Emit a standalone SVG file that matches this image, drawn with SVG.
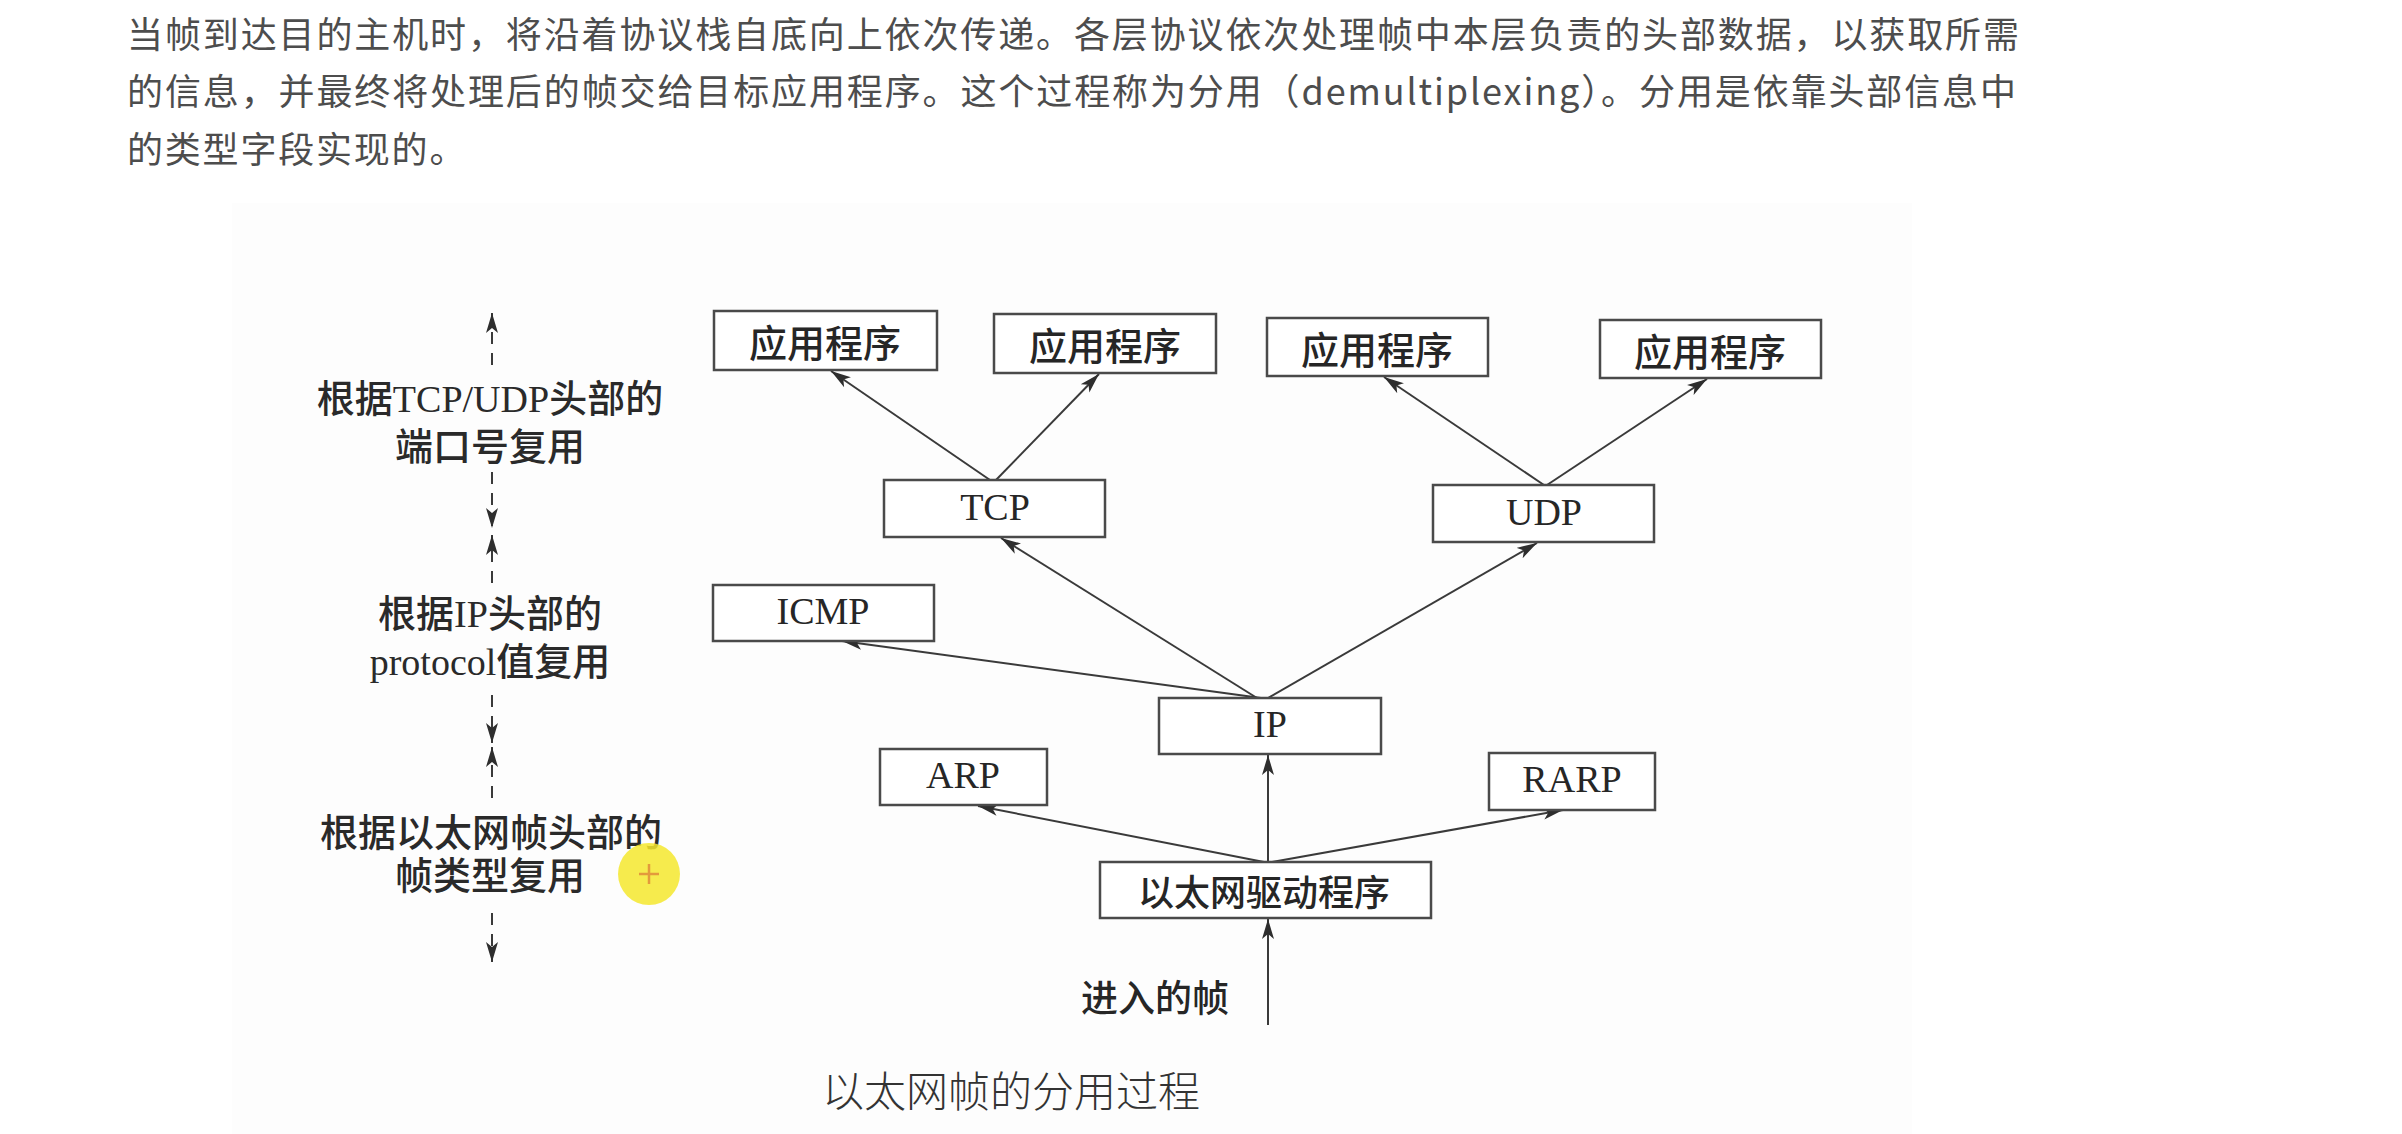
<svg xmlns="http://www.w3.org/2000/svg" width="2402" height="1134" viewBox="0 0 2402 1134">
  <style>
    .para { font-family: "Noto Sans CJK SC", "Noto Sans", sans-serif; font-size: 36px; fill: #4d4d4d; }
    .box { fill: #ffffff; stroke: #4a4a4a; stroke-width: 2.5; }
    .lbl { font-family: "Liberation Serif", "Noto Sans CJK SC", serif; font-size: 38px; fill: #262626; text-anchor: middle; dominant-baseline: central; }
    .cjk { font-family: "Noto Sans CJK SC", sans-serif; font-size: 38px; font-weight: 500; fill: #262626; text-anchor: middle; dominant-baseline: central; }
    .side { font-family: "Liberation Serif", "Noto Sans CJK SC", serif; font-size: 38px; font-weight: 500; fill: #2a2a2a; text-anchor: middle; dominant-baseline: central; }
    .conn { stroke: #3a3a3a; stroke-width: 2; fill: none; marker-end: url(#arr); }
    .dash { stroke: #3a3a3a; stroke-width: 2; fill: none; stroke-dasharray: 12 9; marker-end: url(#arr); }
  </style>
  <defs>
    <marker id="arr" markerUnits="userSpaceOnUse" markerWidth="22" markerHeight="14" refX="20" refY="7" orient="auto">
      <path d="M0,1 L20,7 L0,13 L5,7 Z" fill="#2e2e2e"/>
    </marker>
  </defs>

  <rect x="0" y="0" width="2402" height="1134" fill="#ffffff"/>

  <g id="paragraph">
    <text class="para" x="127" y="48" textLength="1892" lengthAdjust="spacing">当帧到达目的主机时，将沿着协议栈自底向上依次传递。各层协议依次处理帧中本层负责的头部数据，以获取所需</text>
    <text class="para" x="127" y="105" textLength="1889" lengthAdjust="spacing">的信息，并最终将处理后的帧交给目标应用程序。这个过程称为分用（demultiplexing）。分用是依靠头部信息中</text>
    <text class="para" x="127" y="163" letter-spacing="1.8">的类型字段实现的。</text>
  </g>

  <rect id="figure-bg" x="232" y="203" width="1680" height="931" fill="#fdfdfd"/>

  <g id="side-labels">
    <path class="dash" d="M492,365 L492,313"/>
    <text class="side" x="490" y="399">根据TCP/UDP头部的</text>
    <text class="side" x="490" y="447">端口号复用</text>
    <path class="dash" d="M492,472 L492,528"/>
    <path class="dash" d="M492,583 L492,535"/>
    <text class="side" x="490" y="614">根据IP头部的</text>
    <text class="side" x="490" y="662">protocol值复用</text>
    <path class="dash" d="M492,695 L492,743"/>
    <path class="dash" d="M492,798 L492,747"/>
    <text class="side" x="491" y="833">根据以太网帧头部的</text>
    <text class="side" x="490" y="876">帧类型复用</text>
    <path class="dash" d="M492,913 L492,962"/>
  </g>

  <g id="connectors">
    <path class="conn" d="M990,480 L831,371"/>
    <path class="conn" d="M996,480 L1099,374"/>
    <path class="conn" d="M1544,485 L1384,377"/>
    <path class="conn" d="M1547,485 L1707,379"/>
    <path class="conn" d="M1257,698 L1001,538"/>
    <path class="conn" d="M1268,698 L1537,543"/>
    <path class="conn" d="M1261,698 L842,641"/>
    <path class="conn" d="M1268,862 L1268,755"/>
    <path class="conn" d="M1264,862 L978,806"/>
    <path class="conn" d="M1272,862 L1563,810"/>
    <path class="conn" d="M1268,1025 L1268,919"/>
  </g>

  <g id="app1"><rect class="box" x="714" y="311" width="223" height="59"/><text class="cjk" x="825" y="340">应用程序</text></g>
  <g id="app2"><rect class="box" x="994" y="314" width="222" height="59"/><text class="cjk" x="1105" y="343">应用程序</text></g>
  <g id="app3"><rect class="box" x="1267" y="318" width="221" height="58"/><text class="cjk" x="1377" y="347">应用程序</text></g>
  <g id="app4"><rect class="box" x="1600" y="320" width="221" height="58"/><text class="cjk" x="1710" y="349">应用程序</text></g>
  <g id="tcp"><rect class="box" x="884" y="480" width="221" height="57"/><text class="lbl" x="995" y="507">TCP</text></g>
  <g id="udp"><rect class="box" x="1433" y="485" width="221" height="57"/><text class="lbl" x="1544" y="512">UDP</text></g>
  <g id="icmp"><rect class="box" x="713" y="585" width="221" height="56"/><text class="lbl" x="823" y="611">ICMP</text></g>
  <g id="ip"><rect class="box" x="1159" y="698" width="222" height="56"/><text class="lbl" x="1270" y="724">IP</text></g>
  <g id="arp"><rect class="box" x="880" y="749" width="167" height="56"/><text class="lbl" x="963" y="775">ARP</text></g>
  <g id="rarp"><rect class="box" x="1489" y="753" width="166" height="57"/><text class="lbl" x="1572" y="779">RARP</text></g>
  <g id="eth-driver"><rect class="box" x="1100" y="862" width="331" height="56"/><text class="cjk" x="1264" y="890" style="font-size:36px">以太网驱动程序</text></g>

  <g id="input-label"><text class="cjk" x="1155" y="996" style="font-size:37px">进入的帧</text></g>
  <g id="caption"><text class="cjk" x="1011" y="1088" style="font-size:42px;fill:#333333;font-weight:300">以太网帧的分用过程</text></g>

  <g id="cursor-highlight">
    <circle cx="649" cy="874" r="31" fill="#f5e72e" fill-opacity="0.85"/>
    <path d="M649,864 L649,884 M639,874 L659,874" stroke="#e39a3c" stroke-width="2.5"/>
  </g>
</svg>
